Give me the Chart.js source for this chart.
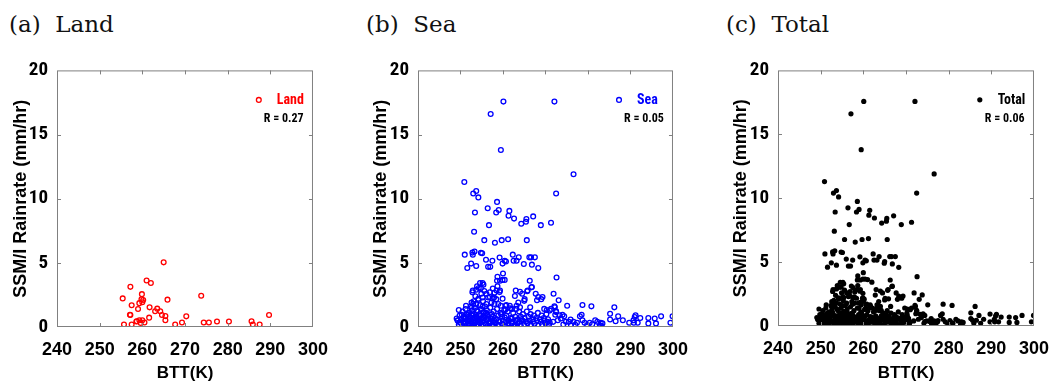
<!DOCTYPE html>
<html>
<head>
<meta charset="utf-8">
<script src="https://cdn.jsdelivr.net/npm/chart.js@4/dist/chart.umd.min.js"></script>
<style>
  body { margin: 0; background: #fff; width: 1061px; height: 382px; position: relative; overflow: hidden; }
  .ttl { position: absolute; top: 11px; font-family: 'DejaVu Serif', serif; font-size: 23px; line-height: 26px; color: #111; white-space: pre; }
  canvas { position: absolute; top: 50px; }
</style>
</head>
<body>
<div class="ttl" style="left:9px">(a)  Land</div>
<div class="ttl" style="left:366px">(b)  Sea</div>
<div class="ttl" style="left:726px">(c)  Total</div>
<canvas id="chartLand" width="340" height="332" style="left:0px"></canvas>
<canvas id="chartSea" width="340" height="332" style="left:360px"></canvas>
<canvas id="chartTotal" width="341" height="332" style="left:720px"></canvas>
<script>
// axis ticks
let xTicks = [240, 250, 260, 270, 280, 290, 300]
let yTicks = [0, 5, 10, 15, 20]

// land points, BTT (K) and SSM/I rain rate (mm/hr)
let landX = [
  265.0, 257.2, 261.0, 262.0, 255.4, 259.9, 259.8, 260.2, 259.3, 260.0,
  257.5, 265.9, 273.8, 259.0, 261.7, 261.6, 257.2, 263.0, 263.5, 264.2,
  264.6, 265.4, 265.4, 270.3, 289.7, 255.7, 257.5, 258.7, 259.3, 259.6,
  260.0, 260.5, 267.7, 269.3, 274.4, 275.6, 277.5, 280.3, 285.6, 285.9,
  287.5, 258.6, 257.1,
]
let landY = [
  5.04, 3.13, 3.63, 3.43, 2.23, 2.56, 2.16, 2.1, 1.86, 1.93,
  1.70, 2.13, 2.43, 1.40, 1.53, 0.73, 0.93, 1.23, 1.43, 1.23,
  0.93, 0.85, 0.53, 0.83, 0.93, 0.2, 0.2, 0.45, 0.53, 0.32,
  0.53, 0.35, 0.2, 0.35, 0.35, 0.35, 0.43, 0.43, 0.45, 0.2,
  0.2, 0.43, 0.95,
]

// sea points
let seaX = [
  260.1, 272.1, 257.1, 259.5, 276.6, 250.9, 253.7, 253.0, 254.2, 272.5,
  258.6, 259.0, 258.4, 256.4, 253.4, 261.5, 261.3, 262.6, 264.3, 265.5,
  265.4, 267.1, 268.9, 271.3, 256.7, 253.2, 255.6, 258.1, 259.7, 261.2,
  265.6, 251.0, 252.9, 253.3, 252.8, 254.8, 255.1, 251.6, 252.5, 253.7,
  256.0, 256.5, 257.0, 257.5, 259.2, 259.9, 260.4, 260.7, 262.3, 262.5,
  263.2, 263.7, 264.9, 266.2, 266.6, 267.5, 266.8, 268.3, 272.6, 260.0,
  258.7, 259.3, 258.6, 259.9, 260.4, 254.6, 255.2, 253.9, 254.3, 254.8,
  258.7, 259.3, 258.5, 259.2, 256.1, 258.0, 257.9, 252.9, 256.9, 263.0,
  262.8, 264.5, 265.0, 265.8, 266.7, 267.7, 268.3, 269.0, 269.3, 266.3,
  266.8, 265.7, 268.0, 257.6, 258.4, 258.9, 259.5, 258.0, 260.8, 261.7,
  260.6, 264.0, 263.6, 264.0, 263.1, 265.1, 249.6, 251.3, 256.1, 259.9,
  260.6, 261.6, 262.1, 263.2, 266.4, 269.7, 270.3, 249.1, 249.4, 249.8,
  271.9, 273.1, 275.1, 278.7, 280.8, 286.2, 285.2, 287.1, 288.2, 272.1,
  271.0, 272.5, 272.3, 273.3, 274.0, 274.4, 273.6, 272.9, 271.8, 271.0,
  274.8, 275.9, 275.5, 276.6, 277.4, 278.1, 278.5, 278.7, 279.2, 280.4,
  281.7, 282.2, 283.0, 283.4, 285.2, 286.5, 289.7, 290.7, 291.0, 291.2,
  292.3, 294.2, 294.2, 295.7, 296.0, 297.2, 299.4, 299.9, 272.2, 272.5,
  271.3, 290.8, 291.7, 276.0, 279.8, 282.8, 283.1, 274.2, 277.0, 281.0,
  250.5, 251.2, 252.0, 252.7, 253.4, 254.1, 254.8, 255.5, 256.2, 257.0,
  257.8, 258.6, 259.4, 260.3, 261.1, 262.4, 263.8, 264.7, 265.6, 266.5,
  267.3, 268.2, 269.1, 270.2, 249.8, 250.9, 251.6, 252.3, 253.0, 253.8,
  254.5, 255.1, 255.9, 256.6, 257.4, 258.1, 258.9, 259.7, 260.8, 261.8,
  262.9, 263.5, 264.2, 265.1, 266.0, 266.9, 267.8, 268.7, 269.6, 270.6,
  249.3, 250.2, 250.8, 251.5, 252.1, 252.9, 253.6, 254.3, 255.0, 255.7,
  256.4, 257.1, 257.9, 258.5, 259.2, 260.0, 260.7, 261.4, 262.2, 263.0,
  263.9, 264.6, 265.4, 266.3, 267.1, 268.0, 268.9, 269.8, 270.5, 249.6,
  250.4, 251.0, 251.8, 252.5, 253.2, 253.9, 254.6, 255.3, 256.0, 256.8,
  257.5, 258.3, 259.0, 259.8, 260.5, 261.2, 262.0, 262.7, 263.4, 264.2,
  265.0, 265.8, 266.6, 267.4, 268.3, 269.2, 270.0, 270.8, 251.3, 252.4,
  253.1, 253.7, 254.2, 254.9, 255.3, 255.8, 256.5, 257.3, 252.6, 253.5,
  254.6, 255.6, 256.9, 257.6, 253.3, 254.0, 255.4, 256.7, 252.2, 251.9,
  253.9, 255.2, 256.0, 255.4, 253.7, 252.8, 255.2, 254.2, 253.0, 252.6,
  250.1, 250.7, 251.4, 252.2, 252.8, 253.5, 254.0, 254.7, 255.4, 256.1,
  256.9, 257.6, 250.3, 251.1, 251.9, 252.6, 253.3, 254.1, 254.9, 255.6,
  256.3, 257.2, 258.0, 258.8, 259.6, 260.4, 261.3, 262.1, 263.0, 264.3,
]
let seaY = [
  17.57, 17.57, 16.6, 13.8, 11.9, 11.3, 10.6, 10.4, 10.1, 10.4,
  9.75, 9.12, 8.92, 9.25, 8.92, 9.05, 8.67, 8.45, 8.05, 8.42,
  8.2, 8.62, 7.94, 8.12, 7.94, 7.42, 6.77, 6.57, 6.77, 6.84,
  6.77, 5.64, 5.64, 5.89, 5.8, 5.79, 5.75, 4.6, 4.94, 4.76,
  5.24, 4.69, 4.69, 5.16, 5.41, 4.94, 5.16, 5.1, 5.64, 5.16,
  5.16, 5.43, 4.91, 5.43, 5.43, 5.43, 4.86, 4.59, 3.86, 4.17,
  3.92, 3.6, 3.6, 3.67, 3.67, 3.42, 3.42, 3.17, 3.04, 3.04,
  3.17, 2.85, 2.85, 2.72, 2.59, 2.66, 2.29, 2.85, 2.34, 2.85,
  2.42, 2.59, 2.04, 2.85, 3.09, 2.59, 2.34, 2.17, 2.34, 3.6,
  3.12, 2.79, 2.09, 2.21, 2.17, 1.79, 1.66, 1.79, 1.71, 1.46,
  1.36, 2.74, 1.91, 1.53, 1.41, 2.17, 1.33, 1.66, 1.79, 2.21,
  1.66, 1.66, 1.41, 1.66, 1.53, 1.41, 1.33, 0.66, 0.53, 0.35,
  2.59, 2.09, 1.66, 1.71, 1.61, 1.53, 1.03, 0.83, 0.53, 1.61,
  1.28, 1.16, 0.96, 0.91, 0.96, 0.83, 0.66, 0.53, 0.4, 0.33,
  0.4, 0.58, 0.4, 0.4, 0.33, 0.83, 0.96, 0.53, 0.33, 0.33,
  0.53, 0.4, 0.33, 0.28, 0.58, 0.45, 0.33, 0.53, 0.78, 0.91,
  0.7, 0.7, 0.28, 0.66, 0.28, 0.83, 0.33, 0.83, 1.53, 1.23,
  1.41, 0.33, 0.33, 0.15, 0.15, 0.12, 0.1, 0.2, 0.18, 0.22,
  1.2, 1.4, 1.1, 1.3, 1.5, 1.2, 1.4, 1.1, 1.3, 1.5,
  1.2, 1.4, 1.1, 1.3, 1.2, 1.1, 1.2, 1.0, 1.2, 1.0,
  0.9, 1.1, 0.9, 1.0, 0.9, 0.8, 1.0, 0.7, 0.9, 0.8,
  1.0, 0.7, 0.9, 0.8, 1.0, 0.7, 0.9, 0.8, 0.9, 0.7,
  0.8, 0.6, 0.8, 0.7, 0.8, 0.6, 0.7, 0.6, 0.7, 0.6,
  0.5, 0.6, 0.4, 0.5, 0.6, 0.4, 0.5, 0.6, 0.4, 0.5,
  0.6, 0.4, 0.5, 0.6, 0.4, 0.5, 0.4, 0.5, 0.4, 0.5,
  0.4, 0.5, 0.4, 0.5, 0.4, 0.5, 0.4, 0.5, 0.4, 0.2,
  0.1, 0.25, 0.15, 0.3, 0.1, 0.2, 0.3, 0.15, 0.25, 0.1,
  0.2, 0.3, 0.15, 0.25, 0.1, 0.2, 0.3, 0.15, 0.25, 0.1,
  0.2, 0.3, 0.15, 0.25, 0.1, 0.2, 0.3, 0.15, 0.7, 1.6,
  2.0, 1.8, 2.2, 2.6, 2.0, 1.6, 2.3, 1.9, 1.9, 2.4,
  1.7, 2.8, 2.7, 3.0, 0.3, 0.7, 0.9, 0.3, 0.3, 0.8,
  1.3, 1.6, 1.1, 3.3, 2.9, 2.7, 2.3, 2.1, 1.8, 1.5,
  0.35, 0.75, 0.95, 0.45, 1.05, 0.65, 0.2, 0.85, 1.15, 0.6,
  0.35, 0.8, 0.95, 0.05, 0.5, 0.9, 0.75, 0.4, 0.15, 0.7,
  1.0, 0.65, 0.35, 0.15, 1.0, 0.75, 0.3, 0.65, 0.05, 0.6,
]

// legend marker sits at this data position in every panel
let legendAt = { x: 287.3, y: 17.7 }

const sansBold = "'Liberation Sans', Arial, sans-serif"
const sansNarrow = "'Roboto Condensed', 'Liberation Sans', Arial, sans-serif"
const frameColor = '#808080'

function toPoints(xs, ys) {
  return xs.map((x, i) => ({ x: x, y: ys[i] }))
}

// grey box with small inward ticks on all four sides, plus the key
const framePlugin = {
  id: 'frameAndKey',
  afterDatasetsDraw(chart, args, opts) {
    const ctx = chart.ctx
    const a = chart.chartArea
    const xs = chart.scales.x
    const ys = chart.scales.y
    ctx.save()
    ctx.strokeStyle = frameColor
    ctx.lineWidth = 1
    ctx.strokeRect(a.left + 0.5, a.top + 0.5, a.right - a.left - 1, a.bottom - a.top - 1)
    ctx.beginPath()
    xTicks.slice(1, -1).forEach(v => {
      const px = Math.round(xs.getPixelForValue(v)) + 0.5
      ctx.moveTo(px, a.bottom); ctx.lineTo(px, a.bottom - 4)
      ctx.moveTo(px, a.top); ctx.lineTo(px, a.top + 4)
    })
    yTicks.slice(1, -1).forEach(v => {
      const py = Math.round(ys.getPixelForValue(v)) + 0.5
      ctx.moveTo(a.left, py); ctx.lineTo(a.left + 4, py)
      ctx.moveTo(a.right, py); ctx.lineTo(a.right - 4, py)
    })
    ctx.stroke()

    // key: marker, label and correlation
    const mx = xs.getPixelForValue(legendAt.x)
    const my = ys.getPixelForValue(legendAt.y)
    ctx.beginPath()
    ctx.arc(mx, my, opts.radius, 0, Math.PI * 2)
    if (opts.filled) {
      ctx.fillStyle = opts.color
      ctx.fill()
    } else {
      ctx.strokeStyle = opts.color
      ctx.lineWidth = 1.3
      ctx.stroke()
    }
    ctx.textBaseline = 'middle'
    ctx.textAlign = 'left'
    ctx.fillStyle = opts.color
    ctx.font = 'bold 14px ' + sansNarrow
    ctx.fillText(opts.label, mx + 18, my + 1)
    ctx.fillStyle = '#000'
    ctx.font = 'bold 12px ' + sansNarrow
    ctx.fillText(opts.rText, mx + 5, my + 19)
    ctx.restore()
  },
}

function makePanel(id, pts, style, key, yWidth, rightPad, topPad, xHeight) {
  return new Chart(document.getElementById(id).getContext('2d'), {
    type: 'scatter',
    data: {
      datasets: [
        {
          data: pts,
          pointStyle: 'circle',
          pointRadius: style.radius,
          pointHoverRadius: style.radius,
          borderWidth: style.borderWidth,
          borderColor: style.color,
          backgroundColor: style.fill,
        },
      ],
    },
    plugins: [framePlugin],
    options: {
      responsive: false,
      animation: false,
      devicePixelRatio: 1,
      layout: { padding: { left: 0, right: rightPad, top: topPad, bottom: 0 } },
      plugins: {
        legend: { display: false },
        tooltip: { enabled: false },
        frameAndKey: key,
      },
      scales: {
        x: {
          type: 'linear',
          min: 240,
          max: 300,
          afterBuildTicks: s => { s.ticks = xTicks.map(v => ({ value: v })) },
          afterFit: s => { s.height = xHeight },
          grid: { display: false, drawTicks: false },
          border: { display: false },
          ticks: { color: '#000', padding: 12, font: { family: sansBold, size: 18, weight: 'bold' } },
          title: {
            display: true,
            text: 'BTT(K)',
            color: '#000',
            padding: { top: 0, bottom: 0 },
            font: { family: sansBold, size: 17, weight: 'bold', lineHeight: 1 },
          },
        },
        y: {
          type: 'linear',
          min: 0,
          max: 20,
          afterBuildTicks: s => { s.ticks = yTicks.map(v => ({ value: v })) },
          afterFit: s => { s.width = yWidth },
          grid: { display: false, drawTicks: false },
          border: { display: false },
          ticks: { color: '#000', padding: 9, font: { family: sansNarrow, size: 19, weight: 'bold' } },
          title: {
            display: true,
            text: 'SSM/I Rainrate (mm/hr)',
            color: '#000',
            padding: { top: 12, bottom: 0 },
            font: { family: sansBold, size: 18, weight: 'bold', lineHeight: 1 },
          },
        },
      },
    },
  })
}

let landPts = toPoints(landX, landY)
let seaPts = toPoints(seaX, seaY)
let totalPts = seaPts.concat(landPts)

let chartLand = makePanel('chartLand', landPts,
  { radius: 2.4, borderWidth: 1.3, color: '#ff0000', fill: 'rgba(0,0,0,0)' },
  { label: 'Land', rText: 'R = 0.27', color: '#ff0000', radius: 2.4, filled: false },
  57, 14, 12, 55)

let chartSea = makePanel('chartSea', seaPts,
  { radius: 2.4, borderWidth: 1.3, color: '#0000ff', fill: 'rgba(0,0,0,0)' },
  { label: 'Sea', rText: 'R = 0.05', color: '#0000ff', radius: 2.4, filled: false },
  58, 14, 12, 55)

let chartTotal = makePanel('chartTotal', totalPts,
  { radius: 2.6, borderWidth: 0, color: '#000000', fill: '#000000' },
  { label: 'Total', rText: 'R = 0.06', color: '#000000', radius: 2.6, filled: true },
  58, 14, 10, 56)

// redraw once fonts are settled so the tick labels pick up the bold faces
document.fonts.ready.then(() => {
  ;[chartLand, chartSea, chartTotal].forEach(c => c.update('none'))
})
</script>
</body>
</html>
